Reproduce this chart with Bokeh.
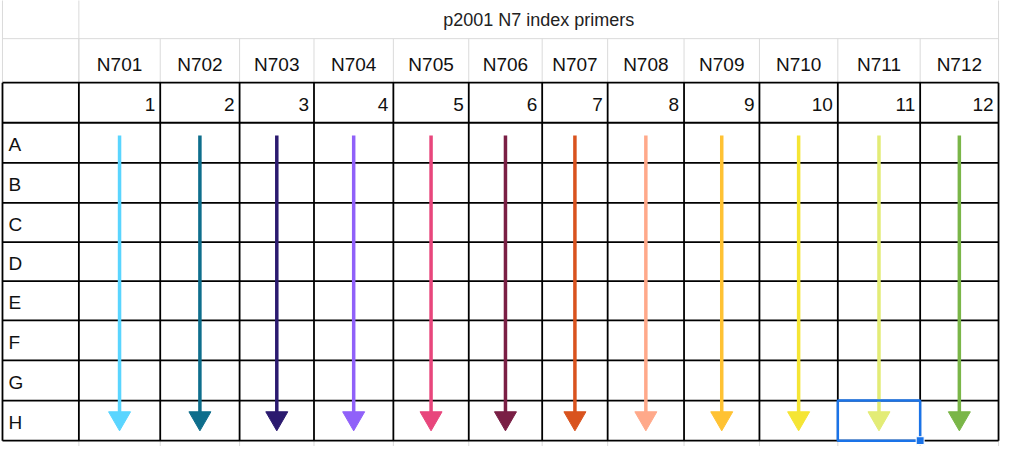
from bokeh.plotting import figure
from bokeh.models import Range1d
from bokeh.embed import file_html
from bokeh.resources import INLINE
from bokeh.core.properties import value

title = "p2001 N7 index primers"
primers = ["N701","N702","N703","N704","N705","N706","N707","N708","N709","N710","N711","N712"]
col_numbers = ["1","2","3","4","5","6","7","8","9","10","11","12"]
rows = ["A","B","C","D","E","F","G","H"]
colors = ["#5ad5ff","#0e6e8c","#2b1a6f","#9061f9","#e8467c","#7a1f45","#d9531e",
          "#ffa98a","#ffc233","#f5e534","#e3ec76","#7ab648"]

# layout (reference pixel grid)
col_edges = [81,163,243,318,398,474,548,614,691,767,846,929,1008]
row_edges = [86,127,168,209,249,289,329,370,411,452]
left = 4
font = value("Liberation Sans")

p = figure(width=1002, height=446, output_backend="svg", toolbar_location=None,
           x_range=Range1d(2, 1012), y_range=Range1d(458, 2), min_border=0)
p.axis.visible = False
p.grid.visible = False
p.outline_line_color = None

# light gray spreadsheet lines
p.segment(x0=[left], y0=[41], x1=[1008], y1=[41], line_color="#dadada", line_width=1)
p.segment(x0=[left, 81, 1008], y0=[0, 0, 0], x1=[left, 81, 1008], y1=[86, 86, 86], line_color="#dadada", line_width=1)
p.segment(x0=col_edges, y0=[41]*len(col_edges), x1=col_edges, y1=[86]*len(col_edges), line_color="#dadada", line_width=1)
p.segment(x0=col_edges, y0=[452]*13, x1=col_edges, y1=[458]*13, line_color="#dadada", line_width=1)

# black table lines
p.segment(x0=[left]*len(row_edges), y0=row_edges, x1=[1008]*len(row_edges), y1=row_edges, line_color="black", line_width=1.8)
vx = [left] + col_edges
p.segment(x0=vx, y0=[86]*len(vx), x1=vx, y1=[452]*len(vx), line_color="black", line_width=1.8)

centers = [(col_edges[i] + col_edges[i+1]) / 2 for i in range(12)]
p.text(x=[(81+1008)/2], y=[22], text=[title], text_font=font, text_font_size="18px",
       text_align="center", text_baseline="middle", text_color="#222222")
p.text(x=centers, y=[67]*12, text=primers, text_font=font, text_font_size="19px",
       text_align="center", text_baseline="middle", text_color="#111111")
p.text(x=[e - 5 for e in col_edges[1:]], y=[108]*12, text=col_numbers, text_font=font,
       text_font_size="19px", text_align="right", text_baseline="middle", text_color="#111111")
row_mid = [(row_edges[i+1] + row_edges[i+2]) / 2 for i in range(8)]
p.text(x=[10]*8, y=[m + 2 for m in row_mid], text=rows, text_font=font, text_font_size="19px",
       text_align="left", text_baseline="middle", text_color="#111111")

# arrows
p.segment(x0=centers, y0=[140]*12, x1=centers, y1=[424]*12, line_color=colors, line_width=3.5)
p.scatter(x=centers, y=[429]*12, marker="inverted_triangle", size=22, fill_color=colors,
          line_color=colors)

# selection box
p.quad(left=[846], right=[929], top=[411], bottom=[452], fill_color=None, line_color="#1a73e8", line_width=2.5)
p.quad(left=[925], right=[933], top=[448], bottom=[456], fill_color="#1a73e8", line_color="white", line_width=1)

open("out.html", "w").write(file_html(p, INLINE))
